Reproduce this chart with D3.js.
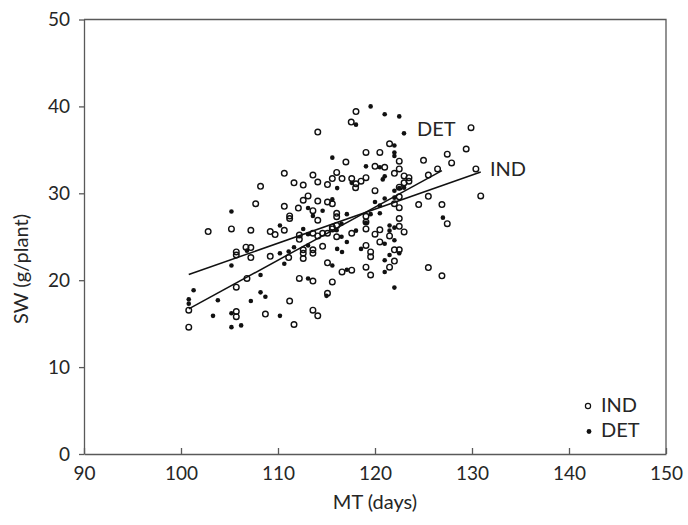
<!DOCTYPE html>
<html><head><meta charset="utf-8">
<script src="https://cdn.jsdelivr.net/npm/d3@7"></script>
<style>body{margin:0;background:#fff}svg{display:block}text{font-family:Lato,"Open Sans",sans-serif;fill:#262626}</style>
</head><body><svg id="c" width="688" height="525"></svg>
<script>
const xTicks=[90,100,110,120,130,140,150];
const yTicks=[0,10,20,30,40,50];
const indMT=[114.1,110.65,113.6,116.05,111.65,112.6,114.1,115.1,115.6,108.2,107.7,110.65,112.1,112.6,113.1,114.1,115.1,115.6,113.6,111.2,111.2,116.05,116.05,118.04,117.55,129.9,121.5,119.07,120.5,117.0,120.0,121.0,122.5,122.5,122.0,123.0,123.5,123.5,116.6,117.6,118.04,118.56,119.07,118.0,125.0,127.45,127.9,129.4,126.45,125.5,130.4,130.9,125.5,124.5,126.9,120.0,122.5,123.0,122.5,122.0,122.5,122.5,102.8,105.2,107.2,109.2,109.7,110.65,112.2,112.2,113.6,114.1,114.6,115.1,115.6,116.05,116.05,114.1,105.7,105.7,107.2,106.7,107.2,109.2,111.1,112.6,112.6,112.6,113.6,113.6,114.6,115.1,115.6,106.8,105.7,100.8,112.2,113.6,111.2,115.1,105.7,105.7,108.7,111.65,113.6,114.1,100.8,119.07,119.07,119.07,115.6,117.6,116.6,117.6,119.07,119.55,119.07,119.55,119.55,120.0,120.5,120.5,121.5,122.5,123.0,122.5,122.0,122.0,121.5,125.5,126.9,127.45];
const indSW=[37.05,32.3,32.1,32.4,31.2,30.95,31.3,31.0,31.7,30.8,28.8,28.5,28.3,29.2,29.7,29.1,29.0,28.8,28.0,27.4,27.1,27.7,27.3,39.4,38.2,37.55,35.7,34.7,34.7,33.6,33.1,33.0,33.7,32.8,32.3,32.0,31.8,31.4,31.7,31.7,31.1,31.4,31.8,30.65,33.8,34.5,33.5,35.1,32.8,32.1,32.8,29.7,29.65,28.7,28.7,30.3,30.7,31.2,29.6,28.8,28.35,27.1,25.6,25.9,25.75,25.6,25.25,25.75,25.2,24.7,25.4,25.1,25.4,25.4,25.9,26.3,25.0,26.9,23.25,22.9,23.75,23.8,22.6,22.75,22.6,23.5,23.1,22.5,23.5,23.1,23.9,22.0,19.8,20.2,19.2,16.55,20.2,19.9,17.6,18.5,16.4,15.8,16.1,14.9,16.55,15.9,14.6,27.35,26.7,25.9,26.1,25.4,20.95,21.15,21.5,20.6,24.0,23.25,22.7,25.3,25.8,24.4,25.1,26.2,25.55,23.5,23.5,22.2,21.5,21.45,20.5,26.5];
const detMT=[115.6,116.1,105.2,115.6,113.1,114.6,113.6,119.55,121.0,122.5,118.04,122.99,122.0,122.0,122.0,119.07,120.5,121.0,120.8,117.6,122.0,122.5,123.0,121.0,122.0,120.0,120.5,117.1,119.55,127.0,110.2,112.6,113.1,116.05,106.8,105.2,110.2,111.1,111.65,110.65,113.1,115.6,108.2,101.3,100.8,100.8,103.8,107.2,108.2,108.7,113.1,115.0,103.3,105.2,105.2,106.2,110.2,120.5,119.07,116.55,116.55,118.04,117.1,116.1,116.6,117.1,118.56,121.0,121.5,121.5,122.0,122.0,122.5,121.5,121.0,121.0,122.0];
const detSW=[34.1,30.6,27.9,29.3,28.3,28.0,27.4,40.0,39.1,38.85,37.9,36.9,35.5,34.7,34.3,33.1,33.0,31.95,31.6,31.2,30.3,30.6,30.65,29.4,29.5,29.0,28.6,27.6,27.6,27.2,26.3,25.9,25.3,25.75,23.4,21.7,23.1,23.3,23.8,21.9,24.0,21.7,20.6,18.85,17.8,17.3,17.7,17.6,18.6,18.1,20.2,18.2,15.9,16.2,14.6,14.8,15.9,27.7,26.6,26.5,25.0,25.7,24.4,23.6,23.25,21.2,23.6,24.2,26.3,25.7,26.05,24.6,23.1,22.9,22.3,20.95,19.15];
const indFitMT=[100.8,130.9], indFitSW=[20.65,32.45];
const detFitMT=[100.8,126.9], detFitSW=[16.7,32.6];

const svg=d3.select("#c");
const L=84,R=666,T=19.5,B=454;
const x=d3.scaleLinear().domain([90,150]).range([L,R]);
const y=d3.scaleLinear().domain([0,50]).range([B,T]);
const axisCol="#595959";

svg.append("path").attr("d",`M${L},${T}H${R}V${B}`).attr("fill","none").attr("stroke",axisCol).attr("stroke-width",1.3);

const gx=svg.append("g").attr("transform",`translate(0,${B})`)
  .call(d3.axisBottom(x).tickValues(xTicks).tickSize(-6).tickPadding(13).tickSizeOuter(0));
const gy=svg.append("g").attr("transform",`translate(${L},0)`)
  .call(d3.axisLeft(y).tickValues(yTicks).tickSize(5).tickPadding(9).tickSizeOuter(0));
[gx,gy].forEach(g=>{
  g.select(".domain").attr("stroke",axisCol).attr("stroke-width",1.3);
  g.selectAll(".tick line").attr("stroke",axisCol).attr("stroke-width",1.3);
  g.selectAll(".tick text").style("font-family","Lato,sans-serif").style("font-size","19px").attr("fill","#262626");
});
gx.selectAll(".tick text").attr("dy","0.71em");

svg.append("text").attr("x",(L+R)/2).attr("y",509).attr("text-anchor","middle").style("font-size","20px").text("MT (days)");
svg.append("text").attr("transform","translate(28,269) rotate(-90)").attr("text-anchor","middle").style("font-size","20px").text("SW (g/plant)");

const line=d3.line().x(d=>x(d[0])).y(d=>y(d[1]));
[[indFitMT,indFitSW],[detFitMT,detFitSW]].forEach(([mx,sw])=>{
  svg.append("path").attr("d",line(mx.map((v,i)=>[v,sw[i]]))).attr("fill","none").attr("stroke","#111").attr("stroke-width",1.5);
});

svg.append("g").selectAll("circle").data(indMT.map((v,i)=>[v,indSW[i]])).join("circle")
  .attr("cx",d=>x(d[0])).attr("cy",d=>y(d[1])).attr("r",2.8)
  .attr("fill","#fff").attr("fill-opacity",0).attr("stroke","#111").attr("stroke-width",1.4);
svg.append("g").selectAll("circle").data(detMT.map((v,i)=>[v,detSW[i]])).join("circle")
  .attr("cx",d=>x(d[0])).attr("cy",d=>y(d[1])).attr("r",2.3).attr("fill","#111");

svg.append("text").attr("x",417).attr("y",136).style("font-size","20px").text("DET");
svg.append("text").attr("x",490).attr("y",176).style("font-size","20px").text("IND");

svg.append("circle").attr("cx",588).attr("cy",406).attr("r",2.6).attr("fill","none").attr("stroke","#111").attr("stroke-width",1.2);
svg.append("circle").attr("cx",589).attr("cy",431.5).attr("r",2.4).attr("fill","#111");
svg.append("text").attr("x",601).attr("y",412).style("font-size","20px").text("IND");
svg.append("text").attr("x",601).attr("y",437).style("font-size","20px").text("DET");
</script></body></html>
